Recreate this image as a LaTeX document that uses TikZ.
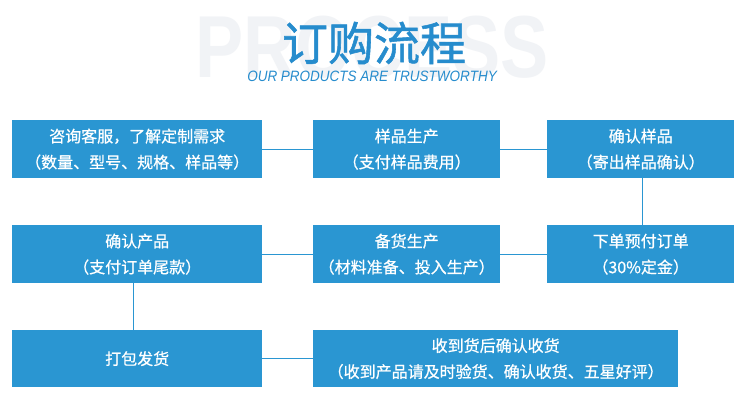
\documentclass[tikz,border=0pt]{standalone}
\usepackage{fontspec}
\setmainfont{Liberation Sans}
\newfontfamily\cjk[FakeBold=0.7]{Noto Sans CJK SC}
\newfontfamily\cjktitle[FakeBold=1.2]{Noto Sans CJK SC}
\definecolor{boxblue}{RGB}{42,150,210}
\definecolor{titleblue}{RGB}{38,140,205}
\definecolor{ghost}{RGB}{241,243,246}
\begin{document}
\begin{tikzpicture}[x=1pt,y=-1pt,
  stepbox/.style={fill=boxblue,text=white,inner sep=0pt,anchor=north west,
    font=\cjk\fontsize{16}{26}\selectfont,align=center},
  link/.style={draw=boxblue,line width=0.9pt}]
\useasboundingbox (0,0) rectangle (750,409);
\fill[white] (0,0) rectangle (750,409);
% background word
\node[text=ghost,font=\bfseries\fontsize{88}{88}\selectfont,xscale=0.82,inner sep=0pt] (bg) at (372,47) {PROCESS};
\node[text=titleblue,font=\cjktitle\fontsize{46}{46}\selectfont,inner sep=0pt] (title) at (374,43) {订购流程};
\node[text=titleblue,font=\itshape\fontsize{15}{15}\selectfont,inner sep=0pt,xscale=0.9] (sub) at (372,76) {OUR PRODUCTS ARE TRUSTWORTHY};
% row 1
\node[stepbox,minimum width=250pt,minimum height=58pt] (a1) at (12,120) {咨询客服，了解定制需求\\（数量、型号、规格、样品等）};
\node[stepbox,minimum width=187pt,minimum height=58pt] (a2) at (313,120) {样品生产\\（支付样品费用）};
\node[stepbox,minimum width=187pt,minimum height=58pt] (a3) at (547,120) {确认样品\\（寄出样品确认）};
% row 2
\node[stepbox,minimum width=250pt,minimum height=58pt] (b1) at (12,225) {确认产品\\（支付订单尾款）};
\node[stepbox,minimum width=187pt,minimum height=58pt] (b2) at (313,225) {备货生产\\（材料准备、投入生产）};
\node[stepbox,minimum width=187pt,minimum height=58pt] (b3) at (547,225) {下单预付订单\\（30\%定金）};
% row 3
\node[stepbox,minimum width=250pt,minimum height=57pt] (c1) at (12,330) {打包发货};
\node[stepbox,minimum width=365pt,minimum height=57pt] (c2) at (313,330) {收到货后确认收货\\（收到产品请及时验货、确认收货、五星好评）};
% connectors
\draw[link] (a1.east) -- (a2.west);
\draw[link] (a2.east) -- (a3.west);
\draw[link] (a3.south -| 642,0) -- (b3.north -| 642,0);
\draw[link] (b3.west) -- (b2.east);
\draw[link] (b2.west) -- (b1.east);
\draw[link] (b1.south -| 133,0) -- (c1.north -| 133,0);
\draw[link] (c1.east) -- (c2.west);
\end{tikzpicture}
\end{document}
